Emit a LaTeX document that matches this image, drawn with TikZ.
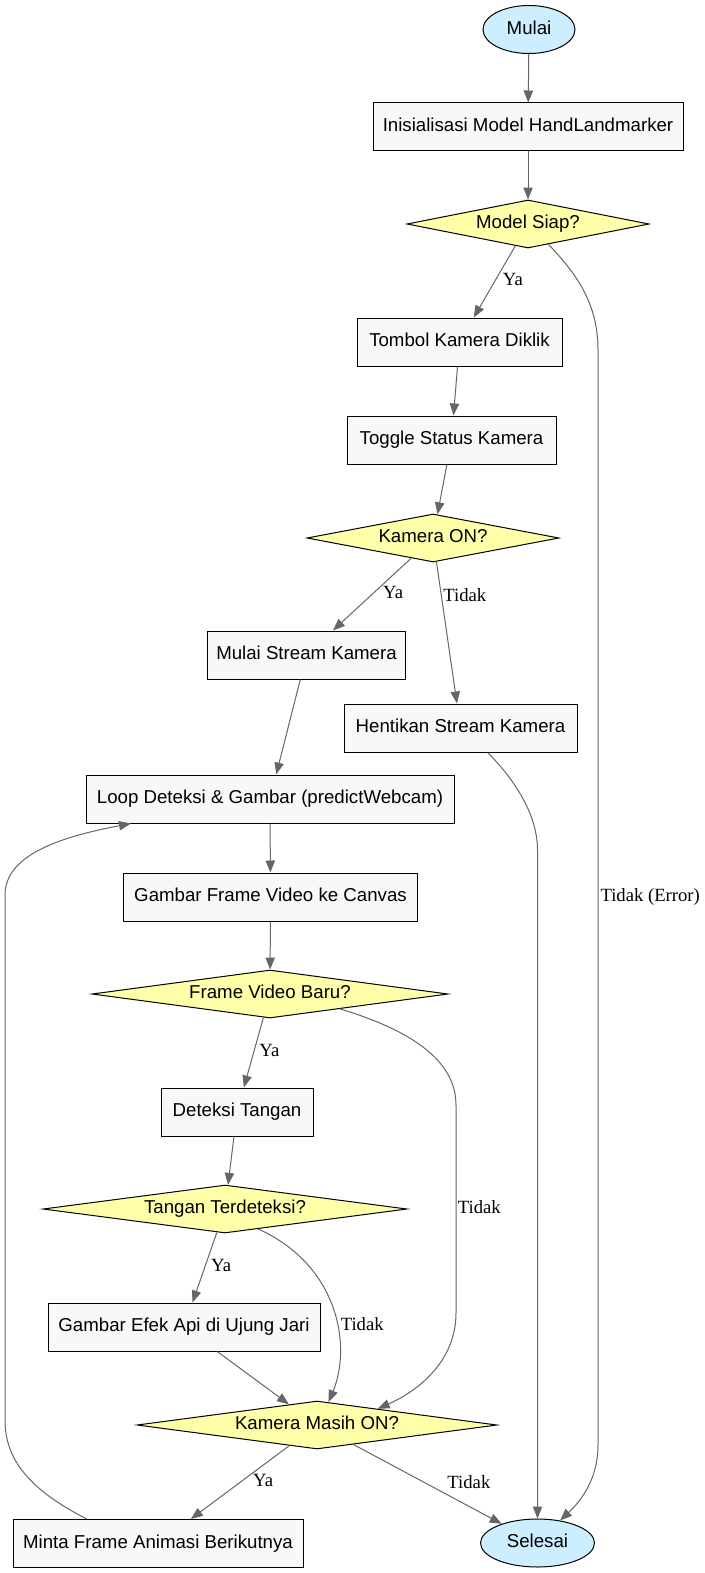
\documentclass[tikz,border=0pt]{standalone}
\usepackage{fontspec}
\setmainfont{Liberation Sans}
\newfontfamily\lblfont{Liberation Serif}
\usetikzlibrary{shapes.geometric,arrows.meta}
\definecolor{termfill}{HTML}{CCEEFF}
\definecolor{procfill}{HTML}{F8F8F8}
\definecolor{decfill}{HTML}{FFFFAA}
\definecolor{edgegray}{HTML}{666666}
\tikzset{
  box/.style={draw, line width=0.75pt, inner sep=0pt, minimum height=36pt,
    font=\fontsize{14}{16}\selectfont, text height=10pt, text depth=3pt},
  term/.style={box, ellipse, fill=termfill},
  proc/.style={box, rectangle, fill=procfill},
  dec/.style={box, diamond, aspect=7, fill=decfill},
  lbl/.style={font=\lblfont\fontsize{14}{16}\selectfont, inner sep=1pt,
    text=black, text height=9pt, text depth=3pt},
  flow/.style={color=edgegray, line width=0.75pt, -{Triangle[length=9pt,width=7pt]}}
}
\begin{document}
\begin{tikzpicture}[x=0.75pt, y=-0.75pt]
    \useasboundingbox (0,0) rectangle (704,1573);
    \node[term, minimum width=69pt] (p0) at (529,29.5) {Mulai};
      \node[proc, minimum width=232.5pt] (p1) at (528,127) {Inisialisasi Model HandLandmarker};
      \node[dec, minimum width=181.5pt] (p2) at (528,224) {Model Siap?};
      \node[proc, minimum width=153.75pt] (p3) at (459.5,342) {Tombol Kamera Diklik};
      \node[proc, minimum width=156.75pt] (p4) at (451.5,440) {Toggle Status Kamera};
      \node[dec, minimum width=189pt] (p5) at (433,538) {Kamera ON?};
      \node[proc, minimum width=149pt] (p6) at (306.5,655) {Mulai Stream Kamera};
      \node[proc, minimum width=174.75pt] (p7) at (460.5,728) {Hentikan Stream Kamera};
      \node[proc, minimum width=276pt] (p8) at (270,799) {Loop Deteksi \& Gambar (predictWebcam)};
      \node[proc, minimum width=221pt] (p9) at (270.5,897) {Gambar Frame Video ke Canvas};
      \node[dec, minimum width=267pt] (p10) at (270,994) {Frame Video Baru?};
      \node[proc, minimum width=114pt] (p11) at (237,1112) {Deteksi Tangan};
      \node[dec, minimum width=273pt] (p12) at (225,1209) {Tangan Terdeteksi?};
      \node[proc, minimum width=204pt] (p13) at (184,1327) {Gambar Efek Api di Ujung Jari};
      \node[dec, minimum width=270pt] (p14) at (317,1425) {Kamera Masih ON?};
      \node[proc, minimum width=217.5pt] (p15) at (158,1543.5) {Minta Frame Animasi Berikutnya};
      \node[term, minimum width=85.5pt] (p16) at (537.5,1543) {Selesai};
      \path[flow] (p0) edge (p1);
      \path[flow] (p1) edge (p2);
      \path[flow] (p2) edge node[lbl, right=5pt] {Ya} (p3);
      \path[flow] (p3) edge (p4);
      \path[flow] (p4) edge (p5);
      \path[flow] (p5) edge node[lbl, right=7pt] {Ya} (p6);
      \path[flow] (p5) edge node[lbl, pos=.25, right=0pt] {Tidak} (p7);
      \path[flow] (p6) edge (p8);
      \path[flow] (p8) edge (p9);
      \path[flow] (p9) edge (p10);
      \path[flow] (p10) edge node[lbl, right=3pt] {Ya} (p11);
      \path[flow] (p11) edge (p12);
      \path[flow] (p12) edge node[lbl, right=3.5pt] {Ya} (p13);
      \path[flow] (p13) edge (p14);
      \path[flow] (p14) edge node[lbl, right=8.5pt] {Ya} (p15);
      \path[flow] (p14) edge node[lbl, right=13.5pt] {Tidak} (p16);
      % long way round on the right
      \draw[flow] (p2.-45) .. controls (578,275) and (598,305) .. (598,350)
        -- (598,1445) node[lbl, pos=.5, right=0.5pt] {Tidak (Error)}
        .. controls (598,1478) and (582,1500) .. (p16.45);
      \draw[flow] (p7.-42) .. controls (515,780) and (537.5,815) .. (537.5,850) -- (p16.north);
      \draw[flow] (p10.-12) .. controls (410,1030) and (456,1060) .. (456,1105)
        -- (456,1313) node[lbl, pos=.5, right=0pt] {Tidak}
        .. controls (456,1360) and (420,1390) .. (p14.15);
      \draw[flow] (p12.-31) .. controls (338,1265) and (352,1345) .. (p14.63)
        node[lbl, pos=.6, right=1.5pt] {Tidak};
      % back to the loop
      \draw[flow] (p15.161) .. controls (30,1490) and (5,1460) .. (5,1420)
        -- (5,895) .. controls (5,855) and (60,837) .. (p8.-170);
    \end{tikzpicture}
\end{document}
